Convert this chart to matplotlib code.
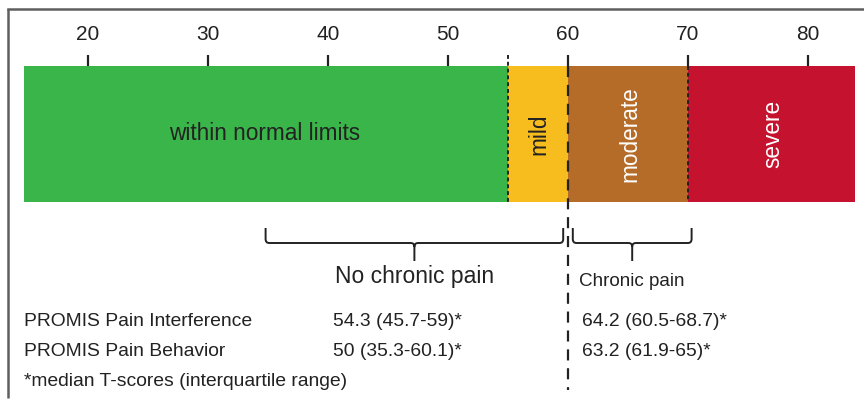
import matplotlib.pyplot as plt
from matplotlib.path import Path
from matplotlib.patches import PathPatch

plt.rcParams['font.family'] = ['Liberation Sans', 'DejaVu Sans']

# severity bands on the T-score scale
band_names = ["within normal limits", "mild", "moderate", "severe"]
band_start = [14.7, 55, 60, 70]
band_end = [55, 60, 70, 83.9]
band_colors = ["#3AB54A", "#F7BD1E", "#B46C28", "#C4122F"]
band_text_colors = ["#222222", "#222222", "#ffffff", "#ffffff"]
band_rotation = [0, 90, 90, 90]
band_label_x = [34.75, 57.6, 65.2, 77.1]

ticks = [20, 30, 40, 50, 60, 70, 80]

# brackets
groups = ["No chronic pain", "Chronic pain"]
group_left = [34.8, 60.4]
group_right = [59.6, 70.3]

measures = ["PROMIS Pain Interference", "PROMIS Pain Behavior"]
no_pain_vals = ["54.3 (45.7-59)*", "50 (35.3-60.1)*"]
pain_vals = ["64.2 (60.5-68.7)*", "63.2 (61.9-65)*"]
footnote = "*median T-scores (interquartile range)"

fig = plt.figure(figsize=(8.64, 4.03), dpi=100)
ax = fig.add_axes([0, 0, 1, 1])
x0 = 20 - 88 / 12.0
ax.set_xlim(x0, x0 + 72)
ax.set_ylim(403, 0)
ax.axis('off')

# frame (top and left only)
ax.plot([x0 + 8 / 12.0, x0 + 8 / 12.0], [398, 9], color="#5e5e5e", lw=1.8,
        solid_capstyle='butt')
ax.plot([x0 + 8 / 12.0, x0 + 72], [9, 9], color="#5e5e5e", lw=1.8)

bar_top, bar_bot = 66, 202
for i in range(len(band_names)):
    ax.fill_between([band_start[i], band_end[i]], bar_top, bar_bot,
                    color=band_colors[i], lw=0)
    ax.text(band_label_x[i], 134, band_names[i], ha='center', va='center',
            rotation=band_rotation[i], color=band_text_colors[i], fontsize=16.3)

for t in ticks:
    ax.plot([t, t], [55, bar_top], color="#222222", lw=1.6, solid_capstyle='butt')
    ax.text(t, 34, str(t), ha='center', va='center', fontsize=15, color="#222222")

# dashed cut-off lines
ax.plot([55, 55], [55, bar_bot], color="#222222", lw=1.4, dashes=(2, 1.5))
ax.plot([70, 70], [bar_top, bar_bot], color="#222222", lw=1.4, dashes=(2, 1.5))
ax.plot([60, 60], [bar_top, 390], color="#222222", lw=1.6, dashes=(5, 3.5))


def brace(left, right, top=228, mid=243, tip=261, r=0.3, rp=4):
    c = (left + right) / 2
    verts = [(left, top), (left, mid - rp), (left, mid), (left + r, mid),
             (c - r, mid), (c, mid), (c, mid + rp), (c, tip)]
    codes = [Path.MOVETO, Path.LINETO, Path.CURVE3, Path.CURVE3,
             Path.LINETO, Path.CURVE3, Path.CURVE3, Path.LINETO]
    verts2 = [(right, top), (right, mid - rp), (right, mid), (right - r, mid),
              (c + r, mid), (c, mid), (c, mid + rp)]
    codes2 = [Path.MOVETO, Path.LINETO, Path.CURVE3, Path.CURVE3,
              Path.LINETO, Path.CURVE3, Path.CURVE3]
    p = Path(verts + verts2, codes + codes2)
    ax.add_patch(PathPatch(p, fill=False, color="#222222", lw=1.4))


for i in range(len(groups)):
    brace(group_left[i], group_right[i])
ax.text((group_left[0] + group_right[0]) / 2, 277, groups[0], ha='center',
        va='center', fontsize=16.5, color="#222222")
ax.text(60.9, 281, groups[1], ha='left', va='center', fontsize=13.6,
        color="#222222")

row_y = [322, 352]
for i in range(len(measures)):
    ax.text(x0 + 24 / 12.0, row_y[i], measures[i], ha='left', va='center',
            fontsize=13.9, color="#222222")
    ax.text(x0 + 333 / 12.0, row_y[i], no_pain_vals[i], ha='left', va='center',
            fontsize=13.9, color="#222222")
    ax.text(x0 + 582 / 12.0, row_y[i], pain_vals[i], ha='left', va='center',
            fontsize=13.9, color="#222222")
ax.text(x0 + 24 / 12.0, 382, footnote, ha='left', va='center', fontsize=13.9,
        color="#222222")

fig.savefig("out.png", dpi=100)
